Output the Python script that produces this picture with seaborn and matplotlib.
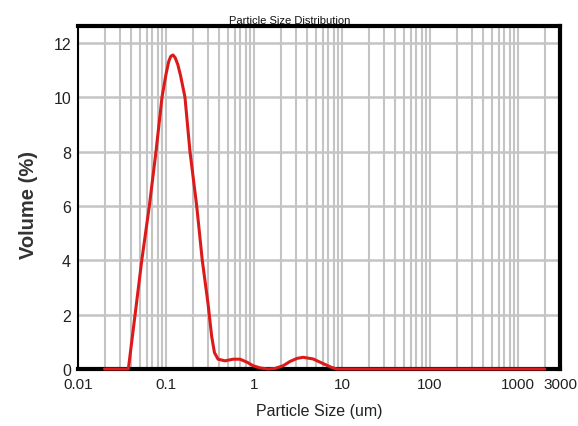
import numpy as np
import pandas as pd
import seaborn as sns
import matplotlib.pyplot as plt
from matplotlib.ticker import FixedLocator, NullFormatter, LogLocator

# 数据
size_um = [0.02, 0.0373, 0.0445, 0.053, 0.0646, 0.0769, 0.090, 0.100, 0.107,
           0.113, 0.120, 0.127, 0.136, 0.146, 0.164, 0.187, 0.223, 0.258,
           0.300, 0.330, 0.355, 0.390, 0.468, 0.577, 0.693, 0.832, 0.974,
           1.17, 1.44, 1.73, 2.14, 2.57, 3.08, 3.61, 4.68, 6.08, 7.69,
           8.77, 2000]
volume_pct = [0, 0, 2, 4, 6, 8, 10, 10.85, 11.3,
              11.5, 11.55, 11.45, 11.2, 10.8, 10.0, 8, 6, 4,
              2.4, 1.2, 0.6, 0.36, 0.30, 0.36, 0.36, 0.25, 0.12,
              0.04, 0.0, 0.02, 0.12, 0.28, 0.39, 0.43, 0.37, 0.2, 0.05,
              0, 0]

x_ticks = [0.01, 0.1, 1, 10, 100, 1000, 3000]
x_tick_labels = ['0.01', '0.1', '1', '10', '100', '1000', '3000']
y_ticks = [0, 2, 4, 6, 8, 10, 12]

df = pd.DataFrame({'size': size_um, 'volume': volume_pct})

sns.set_style("white")
plt.rcParams['font.family'] = ['Liberation Sans', 'DejaVu Sans']

fig = plt.figure(figsize=(5.78, 4.27), dpi=100)
ax = fig.add_axes([0.135, 0.1335, 0.834, 0.8035])

ax.set_xscale('log')
ax.set_xlim(0.01, 3000)
ax.set_ylim(0, 12.62)

# 网格
ax.xaxis.set_major_locator(FixedLocator(x_ticks))
ax.xaxis.set_minor_locator(LogLocator(base=10, subs=np.arange(2, 10), numticks=20))
ax.xaxis.set_minor_formatter(NullFormatter())
ax.set_xticklabels(x_tick_labels)
ax.set_yticks(y_ticks)
ax.grid(True, which='both', axis='x', color='#c4c4c4', lw=1.5)
ax.grid(True, which='major', axis='y', color='#c4c4c4', lw=1.8)
ax.set_axisbelow(True)

# 曲线
sns.lineplot(data=df, x='size', y='volume', ax=ax, color='#dd1a1a', lw=2.2,
             clip_on=False, zorder=5)

# 边框
for side in ['top', 'right', 'bottom']:
    ax.spines[side].set_linewidth(3)
    ax.spines[side].set_color('black')
ax.spines['left'].set_linewidth(1.5)
ax.spines['left'].set_color('black')

ax.tick_params(axis='both', which='both', length=0, labelsize=11.5, colors='#222222')
ax.tick_params(axis='x', pad=5.5, labelsize=11)
ax.tick_params(axis='y', pad=5)

ax.set_xlabel('Particle Size (um)', fontsize=11.5, color='#222222', labelpad=9)
ax.set_ylabel('')
fig.text(0.05, 0.52, 'Volume (%)', rotation=90, ha='center', va='center',
         fontsize=14.5, fontweight='bold', color='#333333')
fig.text(0.502, 0.951, 'Particle Size Distribution', ha='center', va='center',
         fontsize=8, color='#111111')

plt.savefig('out.png', dpi=100)
plt.close()
